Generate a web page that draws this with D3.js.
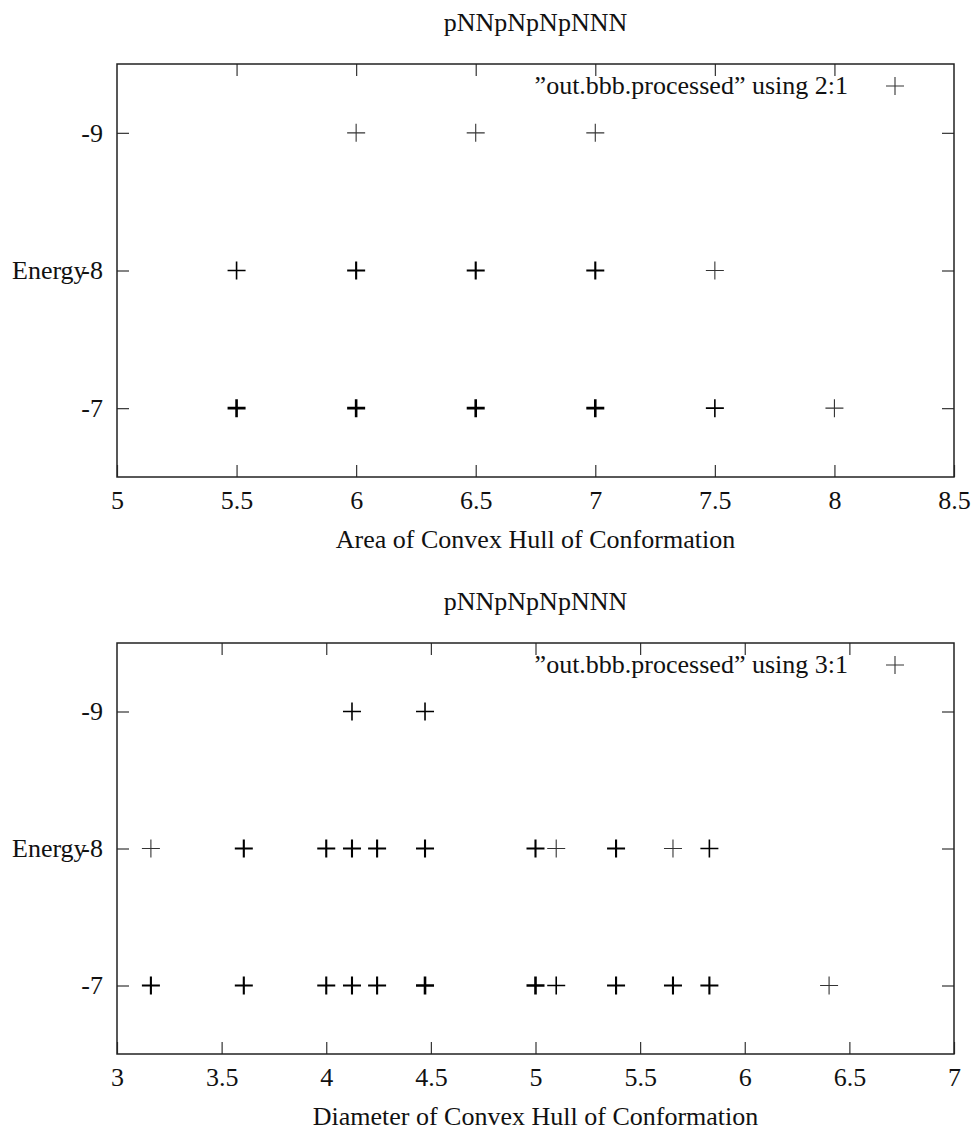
<!DOCTYPE html>
<html>
<head>
<meta charset="utf-8">
<script src="https://cdn.jsdelivr.net/npm/d3@7"></script>
<style>
  body { margin: 0; background: #fff; }
  text { font-family: "Liberation Serif", "DejaVu Serif", serif; fill: #111; }
</style>
</head>
<body>
<svg id="chart"></svg>
<script>
// chart title, shared by both panels
let title = 'pNNpNpNpNNN'
let yLabel = 'Energy'
let yTicks = [-9, -8, -7]

// top panel: area of convex hull vs energy (count = how many points overlap)
let areaX      = [6, 6.5, 7,   5.5, 6, 6.5, 7, 7.5,   5.5, 6, 6.5, 7, 7.5, 8]
let areaEnergy = [-9, -9, -9,  -8, -8, -8, -8, -8,    -7, -7, -7, -7, -7, -7]
let areaCount  = [1, 1, 1,     2, 3, 3, 3, 1,         4, 4, 4, 4, 2, 1]
let areaTicks  = [5, 5.5, 6, 6.5, 7, 7.5, 8, 8.5]

// bottom panel: diameter of convex hull vs energy
let diamX      = [4.123, 4.472,
                  3.162, 3.606, 4, 4.123, 4.243, 4.472, 5, 5.099, 5.385, 5.657, 5.831,
                  3.162, 3.606, 4, 4.123, 4.243, 4.472, 5, 5.099, 5.385, 5.657, 5.831, 6.403]
let diamEnergy = [-9, -9,
                  -8, -8, -8, -8, -8, -8, -8, -8, -8, -8, -8,
                  -7, -7, -7, -7, -7, -7, -7, -7, -7, -7, -7, -7]
let diamCount  = [2, 2,
                  1, 3, 3, 3, 3, 3, 3, 1, 3, 1, 2,
                  3, 3, 3, 3, 3, 4, 4, 2, 3, 3, 3, 1]
let diamTicks  = [3, 3.5, 4, 4.5, 5, 5.5, 6, 6.5, 7]

// canvas
let width = 978
let height = 1134
let left = 117
let right = 954
let tickLen = 12
let markSize = 9
let fontSize = 26

let svg = d3.select('#chart')
    .attr('width', width)
    .attr('height', height)

let plusPath = (s) => 'M' + (-s) + ',0H' + s + 'M0,' + (-s) + 'V' + s

let drawPanel = (top, bottom, xs, es, counts, xTicks, xLabel, legend) => {
    let g = svg.append('g')

    let xScale = d3.scaleLinear()
                    .domain([xTicks[0], xTicks[xTicks.length - 1]])
                    .range([left, right])
    let yScale = d3.scaleLinear()
                    .domain([-9.5, -6.5])
                    .range([top, bottom])

    // inward ticks on all four sides
    let tickStyle = (sel) => {
        sel.select('.domain').remove()
        sel.selectAll('.tick line').attr('stroke', '#333').attr('stroke-width', 1.2)
        sel.selectAll('.tick text').attr('font-size', fontSize).attr('fill', '#111')
            .attr('font-family', '"Liberation Serif", serif')
    }
    let plain = (d) => String(d)

    g.append('g')
        .attr('transform', 'translate(0,' + bottom + ')')
        .call(d3.axisBottom(xScale).tickValues(xTicks).tickSizeInner(-tickLen).tickSizeOuter(0).tickPadding(14).tickFormat(plain))
        .call(tickStyle)
    g.append('g')
        .attr('transform', 'translate(0,' + top + ')')
        .call(d3.axisTop(xScale).tickValues(xTicks.slice(1, -1)).tickSizeInner(-tickLen).tickSizeOuter(0).tickFormat(''))
        .call(tickStyle)
    g.append('g')
        .attr('transform', 'translate(' + left + ',0)')
        .call(d3.axisLeft(yScale).tickValues(yTicks).tickSizeInner(-tickLen).tickSizeOuter(0).tickPadding(14).tickFormat(plain))
        .call(tickStyle)
    g.append('g')
        .attr('transform', 'translate(' + right + ',0)')
        .call(d3.axisRight(yScale).tickValues(yTicks).tickSizeInner(-tickLen).tickSizeOuter(0).tickFormat(''))
        .call(tickStyle)

    // frame
    g.append('rect')
        .attr('x', left).attr('y', top)
        .attr('width', right - left).attr('height', bottom - top)
        .attr('fill', 'none').attr('stroke', '#222').attr('stroke-width', 1.5)

    // points: overlapping points are drawn heavier
    g.selectAll('path.pt')
        .data(xs.map((x, i) => [x, es[i], counts[i]]))
        .enter()
        .append('path')
        .attr('class', 'pt')
        .attr('d', plusPath(markSize))
        .attr('transform', (d) => 'translate(' + xScale(d[0]) + ',' + yScale(d[1]) + ')')
        .attr('fill', 'none')
        .attr('stroke', '#000')
        .attr('stroke-width', (d) => Math.min(1.1 + 0.5 * (d[2] - 1), 2.6))
        .attr('stroke-opacity', (d) => d[2] > 1 ? 1 : 0.8)

    // labels
    g.append('text')
        .attr('x', (left + right) / 2).attr('y', top - 33)
        .attr('text-anchor', 'middle').attr('font-size', fontSize)
        .text(title)
    g.append('text')
        .attr('x', (left + right) / 2).attr('y', bottom + 71)
        .attr('text-anchor', 'middle').attr('font-size', fontSize)
        .text(xLabel)
    g.append('text')
        .attr('x', 12).attr('y', (top + bottom) / 2 + 8)
        .attr('font-size', fontSize)
        .text(yLabel)

    // legend
    let ly = top + 22
    g.append('text')
        .attr('x', 848).attr('y', ly + 8)
        .attr('text-anchor', 'end').attr('font-size', fontSize)
        .text(legend)
    g.append('path')
        .attr('d', plusPath(markSize))
        .attr('transform', 'translate(895,' + ly + ')')
        .attr('fill', 'none').attr('stroke', '#000').attr('stroke-width', 1.1)
        .attr('stroke-opacity', 0.8)
}

drawPanel(64, 477, areaX, areaEnergy, areaCount, areaTicks,
    'Area of Convex Hull of Conformation', '\u201dout.bbb.processed\u201d using 2:1')
drawPanel(643, 1054, diamX, diamEnergy, diamCount, diamTicks,
    'Diameter of Convex Hull of Conformation', '\u201dout.bbb.processed\u201d using 3:1')
</script>
</body>
</html>
